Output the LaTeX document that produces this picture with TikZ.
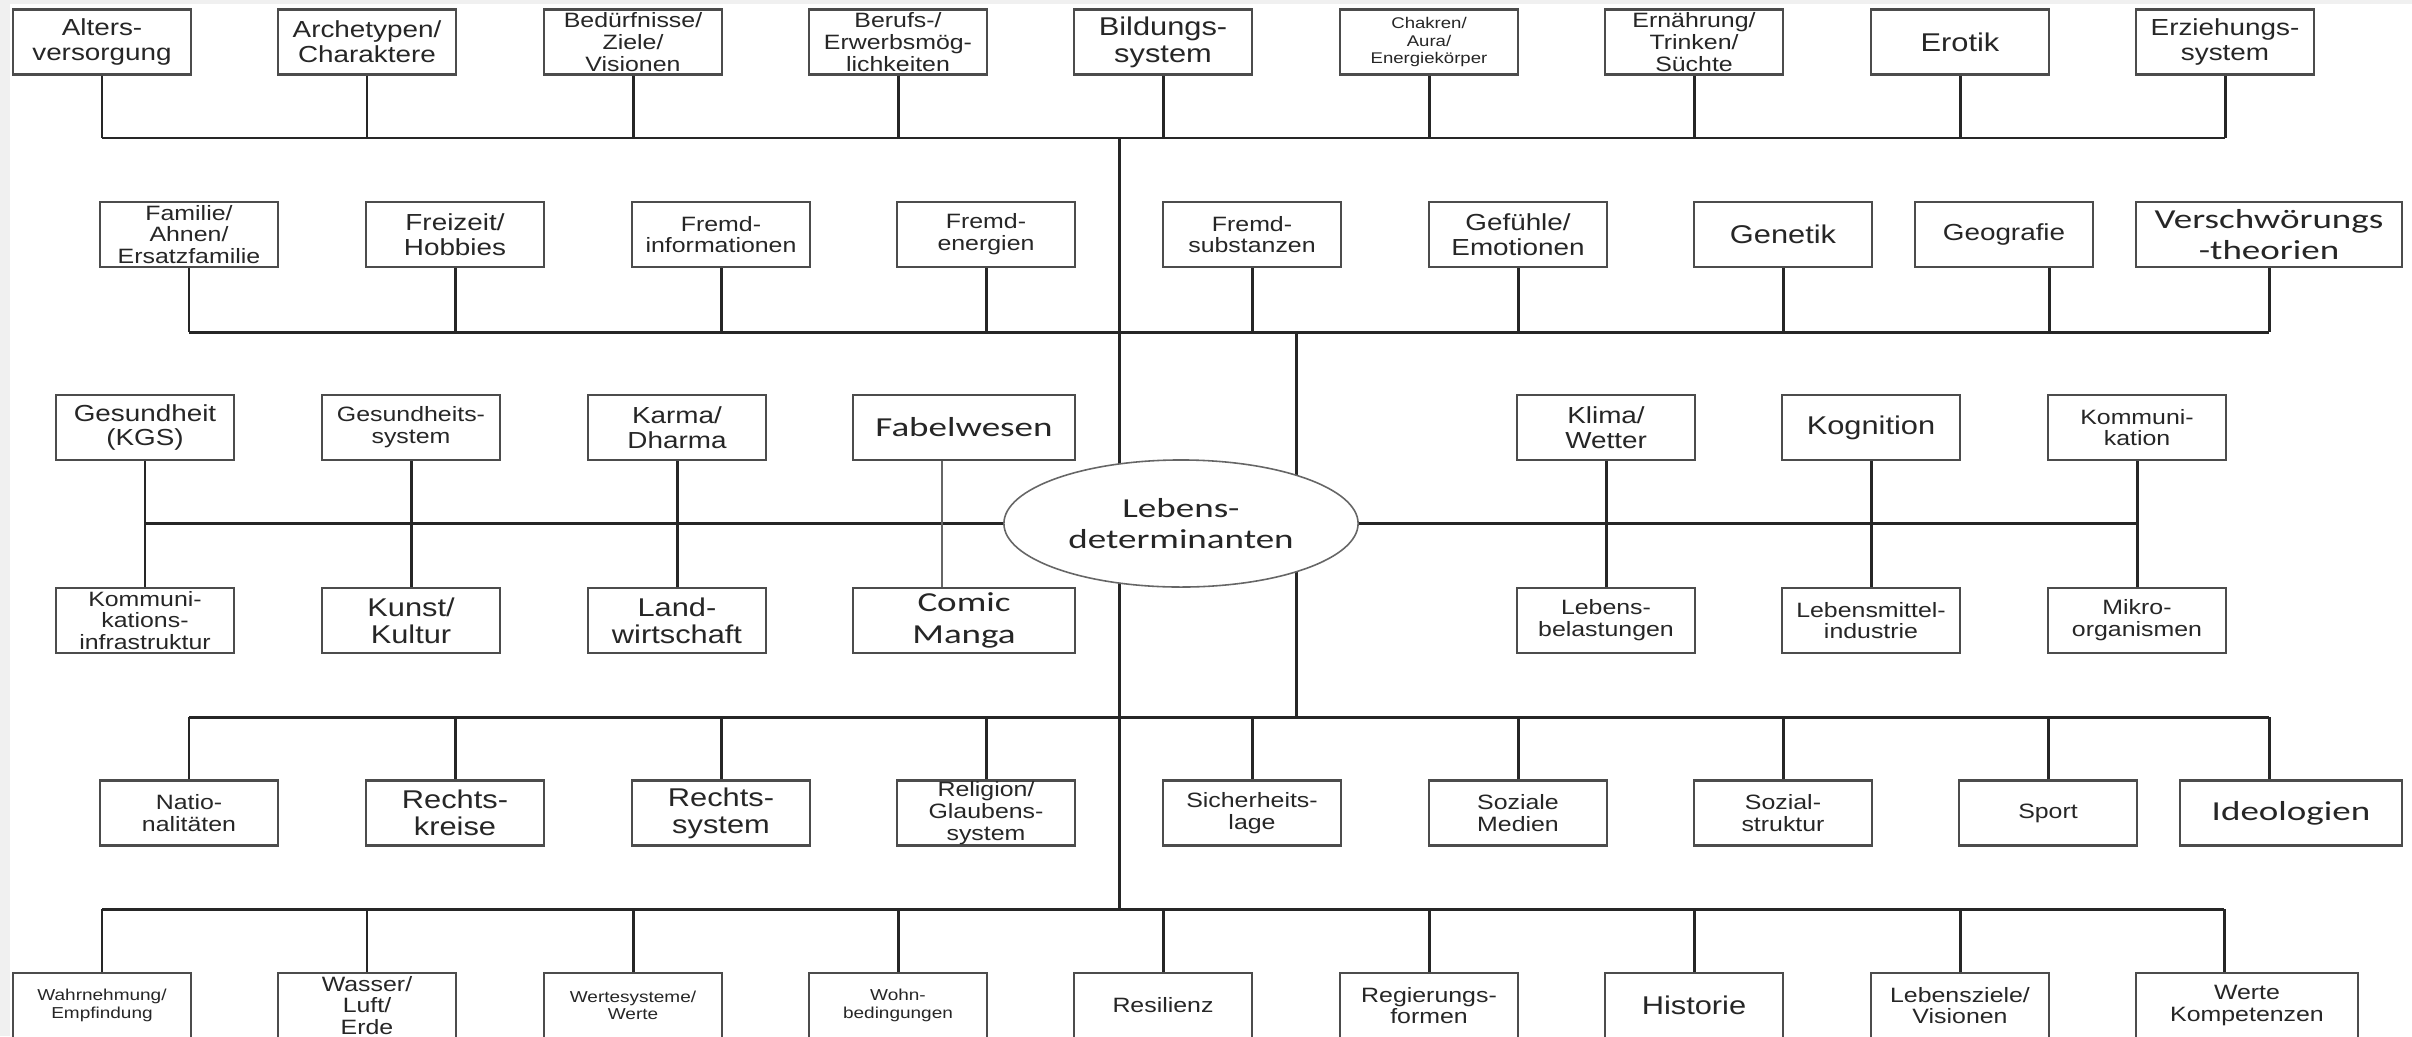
\documentclass[tikz,border=0pt]{standalone}
\usepackage{fontspec}
\setmainfont{Liberation Sans}[FakeStretch=1.2]
\newfontfamily\calfont{Carlito}[FakeStretch=1.35]
\usetikzlibrary{shapes.geometric}
\tikzset{
  box/.style={draw=black!70, line width=0.6pt, fill=white, text=black!85,
    minimum width=1.78cm, minimum height=0.65cm, inner sep=0pt, align=center},
  widebox/.style={box, minimum width=2.22cm},
  conn/.style={line width=0.85pt, black!85},
  thinline/.style={line width=0.5pt, black!60},
  txtxs/.style={font=\fontsize{4.4}{4.9}\selectfont},
  txts/.style={font=\fontsize{4.5}{4.9}\selectfont},
  txtm/.style={font=\fontsize{5.9}{6.2}\selectfont},
  txtl/.style={font=\fontsize{6.6}{7.0}\selectfont},
  txtxl/.style={font=\fontsize{7.3}{7.7}\selectfont},
  txtcal/.style={font=\calfont\fontsize{7.8}{8.9}\selectfont}
}
\begin{document}
\begin{tikzpicture}[x=0.01cm,y=-0.01cm]
		\useasboundingbox (0,0) rectangle (2412,1036);
		\fill[black!6] (0,0) rectangle (2412,1036);
		\fill[white] (10,4) rectangle (2412,1036);
		\clip (0,0) rectangle (2412,1036);
		% erste Reihe
		\node[box,txtl] (a1) at (102,42) {Alters-\\versorgung};
		\node[box,txtl] (a2) at (367,42) {Archetypen/\\Charaktere};
		\node[box,txtm] (a3) at (633,42) {Bedürfnisse/\\Ziele/\\Visionen};
		\node[box,txtm] (a4) at (898,42) {Berufs-/\\Erwerbsmög-\\lichkeiten};
		\node[box,txtxl] (a5) at (1163,42) {Bildungs-\\system};
		\node[box,txtxs] (a6) at (1429,42) {Chakren/\\Aura/\\Energiekörper};
		\node[box,txtm] (a7) at (1694,42) {Ernährung/\\Trinken/\\Süchte};
		\node[box,txtxl] (a8) at (1960,42) {Erotik};
		\node[box,txtl] (a9) at (2225,42) {Erziehungs-\\system};
		% zweite Reihe
		\node[box,txtm] (b1) at (189,234.5) {Familie/\\Ahnen/\\Ersatzfamilie};
		\node[box,txtl] (b2) at (455,234.5) {Freizeit/\\Hobbies};
		\node[box,txtm] (b3) at (721,234.5) {Fremd-\\informationen};
		\node[box,txtm] (b4) at (986,234.5) {Fremd-\\energien};
		\node[box,txtm] (b5) at (1252,234.5) {Fremd-\\substanzen};
		\node[box,txtl] (b6) at (1518,234.5) {Gefühle/\\Emotionen};
		\node[box,txtxl] (b7) at (1783,234.5) {Genetik};
		\node[box,txtl] (b8) at (2004,234.5) {Geografie};
		\node[box,txtcal,minimum width=2.66cm] (b9) at (2269,234.5) {Verschwörungs\\-theorien};
		% mittlere Reihen
		\node[box,txtl] (c1) at (145,427.5) {Gesundheit\\(KGS)};
		\node[box,txtm] (c2) at (411,427.5) {Gesundheits-\\system};
		\node[box,txtl] (c3) at (677,427.5) {Karma/\\Dharma};
		\node[widebox,txtcal] (c4) at (964,427.5) {Fabelwesen};
		\node[box,txtl] (c5) at (1606,427.5) {Klima/\\Wetter};
		\node[box,txtxl] (c6) at (1871,427.5) {Kognition};
		\node[box,txtm] (c7) at (2137,427.5) {Kommuni-\\kation};
		\node[box,txtm] (d1) at (145,620.5) {Kommuni-\\kations-\\infrastruktur};
		\node[box,txtxl] (d2) at (411,620.5) {Kunst/\\Kultur};
		\node[box,txtxl] (d3) at (677,620.5) {Land-\\wirtschaft};
		\node[widebox,txtcal] (d4) at (964,620.5) {Comic\\Manga};
		\node[box,txtm] (d5) at (1606,620.5) {Lebens-\\belastungen};
		\node[box,txtm] (d6) at (1871,620.5) {Lebensmittel-\\industrie};
		\node[box,txtm] (d7) at (2137,620.5) {Mikro-\\organismen};
		% fuenfte Reihe
		\node[box,txtm] (e1) at (189,813) {Natio-\\nalitäten};
		\node[box,txtxl] (e2) at (455,813) {Rechts-\\kreise};
		\node[box,txtxl] (e3) at (721,813) {Rechts-\\system};
		\node[box,txtm] (e4) at (986,813) {Religion/\\Glaubens-\\system};
		\node[box,txtm] (e5) at (1252,813) {Sicherheits-\\lage};
		\node[box,txtm] (e6) at (1518,813) {Soziale\\Medien};
		\node[box,txtm] (e7) at (1783,813) {Sozial-\\struktur};
		\node[box,txtm] (e8) at (2048,813) {Sport};
		\node[widebox,txtcal] (e9) at (2291,813) {Ideologien};
		% letzte Reihe
		\node[box,txts] (f1) at (102,1005.5) {Wahrnehmung/\\Empfindung};
		\node[box,txtm] (f2) at (367,1005.5) {Wasser/\\Luft/\\Erde};
		\node[box,txts] (f3) at (633,1005.5) {Wertesysteme/\\Werte};
		\node[box,txts] (f4) at (898,1005.5) {Wohn-\\bedingungen};
		\node[box,txtm] (f5) at (1163,1005.5) {Resilienz};
		\node[box,txtm] (f6) at (1429,1005.5) {Regierungs-\\formen};
		\node[box,txtxl] (f7) at (1694,1005.5) {Historie};
		\node[box,txtm] (f8) at (1960,1005.5) {Lebensziele/\\Visionen};
		\node[widebox,txtm] (f9) at (2247,1005.5) {Werte\\Kompetenzen};
		% Stamm
		\coordinate (bus1) at (1119,138);
		\coordinate (bus6) at (1119,909);
		\coordinate (bus2) at (1296,332);
		\coordinate (bus5) at (1296,717);
		\draw[conn] (bus1) -- (bus6);
		\draw[conn] (bus2) -- (bus5);
		\node[ellipse,draw=black!60,line width=0.45pt,fill=white,text=black!85,txtcal,
			minimum width=3.54cm,minimum height=1.27cm,inner sep=0pt,align=center]
			(lde) at (1181,523.5) {Lebens-\\determinanten};
		\draw[conn] (a1.south |- bus1) -- (a9.south |- bus1);
		\draw[conn] (a1.south) -- (a1.south |- bus1) (a2.south) -- (a2.south |- bus1)
			(a3.south) -- (a3.south |- bus1) (a4.south) -- (a4.south |- bus1)
			(a5.south) -- (a5.south |- bus1) (a6.south) -- (a6.south |- bus1)
			(a7.south) -- (a7.south |- bus1) (a8.south) -- (a8.south |- bus1)
			(a9.south) -- (a9.south |- bus1);
		\draw[conn] (b1.south |- bus2) -- (b9.south |- bus2);
		\draw[conn] (b1.south) -- (b1.south |- bus2) (b2.south) -- (b2.south |- bus2)
			(b3.south) -- (b3.south |- bus2) (b4.south) -- (b4.south |- bus2)
			(b5.south) -- (b5.south |- bus2) (b6.south) -- (b6.south |- bus2)
			(b7.south) -- (b7.south |- bus2) (b9.south) -- (b9.south |- bus2);
		\draw[conn] ([xshift=0.45cm]b8.south) -- ([xshift=0.45cm]b8.south |- bus2);
		\draw[conn] (c1.south |- lde.west) -- (lde.west);
		\draw[conn] (lde.east) -- (c7.south |- lde.east);
		\draw[conn] (c1) -- (d1) (c2) -- (d2) (c3) -- (d3);
		\draw[conn] (c5) -- (d5) (c6) -- (d6) (c7) -- (d7);
		\draw[thinline] ([xshift=-0.22cm]c4.south) -- ([xshift=-0.22cm]d4.north);
		\draw[conn] (e1.north |- bus5) -- ([xshift=-0.22cm]e9.north |- bus5);
		\draw[conn] (e1.north) -- (e1.north |- bus5) (e2.north) -- (e2.north |- bus5)
			(e3.north) -- (e3.north |- bus5) (e4.north) -- (e4.north |- bus5)
			(e5.north) -- (e5.north |- bus5) (e6.north) -- (e6.north |- bus5)
			(e7.north) -- (e7.north |- bus5) (e8.north) -- (e8.north |- bus5);
		\draw[conn] ([xshift=-0.22cm]e9.north) -- ([xshift=-0.22cm]e9.north |- bus5);
		\draw[conn] (f1.north |- bus6) -- ([xshift=-0.23cm]f9.north |- bus6);
		\draw[conn] (f1.north) -- (f1.north |- bus6) (f2.north) -- (f2.north |- bus6)
			(f3.north) -- (f3.north |- bus6) (f4.north) -- (f4.north |- bus6)
			(f5.north) -- (f5.north |- bus6) (f6.north) -- (f6.north |- bus6)
			(f7.north) -- (f7.north |- bus6) (f8.north) -- (f8.north |- bus6);
		\draw[conn] ([xshift=-0.23cm]f9.north) -- ([xshift=-0.23cm]f9.north |- bus6);
\end{tikzpicture}
\end{document}
